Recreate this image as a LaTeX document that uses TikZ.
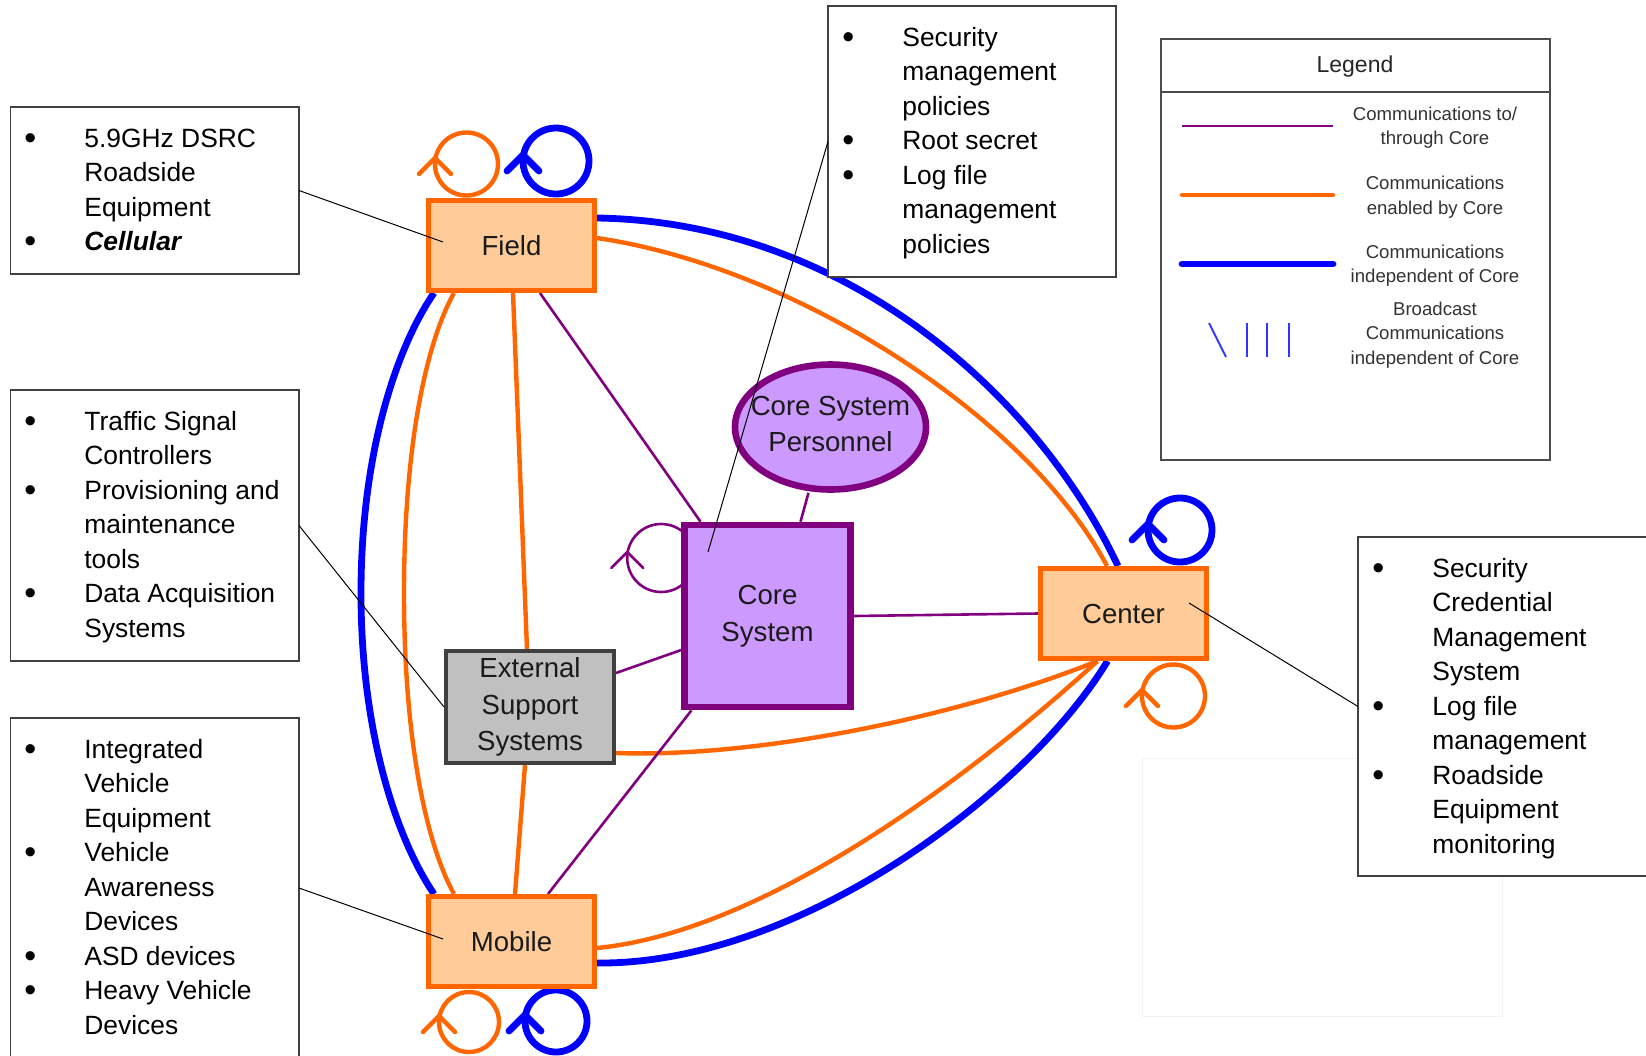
\documentclass[tikz,border=0pt]{standalone}
\usepackage{fontspec}
\setmainfont{Liberation Sans}
\usetikzlibrary{calc,shapes.geometric}
\definecolor{cOrange}{HTML}{FF6600}
\definecolor{cPeach}{HTML}{FFCC99}
\definecolor{cBlue}{HTML}{0000FF}
\definecolor{cPurple}{HTML}{800080}
\definecolor{cLav}{HTML}{CC99FF}
\definecolor{cGrayFill}{HTML}{C0C0C0}
\definecolor{cGrayLine}{HTML}{404040}
\definecolor{cText}{HTML}{1A1A1A}
\definecolor{cBcast}{HTML}{3333FF}
\pgfdeclarelayer{bg}
\pgfsetlayers{bg,main}
\newcommand\notefont{\fontsize{13.2}{17.25}\selectfont}
\newcommand\labelfont{\fontsize{13.8}{18.4}\selectfont}
\newcommand\legfont{\fontsize{9.3}{12.3}\selectfont}
\newcommand\bul{\leavevmode\llap{\makebox[0pt]{\raisebox{-1pt}{\fontsize{17}{17}\selectfont\textbullet}}\hspace{27pt}}}
\newcommand\selfloop[3]{%
  \path #1 coordinate (lp);
  \draw[#3] (lp) circle[radius=#2*0.5pt];
  \draw[#3,line cap=round,line join=round] ($(lp)+(-#2,-6)+(-16,16)$) -- ($(lp)+(-#2,-6)$) -- ($(lp)+(-#2,-6)+(16,16)$);}
\begin{document}
\begin{tikzpicture}[x=0.5pt,y=-0.5pt,
  entity/.style={rectangle,draw=cOrange,fill=cPeach,line width=2.5pt,minimum width=83pt,minimum height=45pt,inner sep=0pt,font=\labelfont,text=cText,align=center},
  corebox/.style={rectangle,draw=cPurple,fill=cLav,line width=3.3pt,minimum width=83pt,minimum height=91pt,inner sep=0pt,font=\labelfont,text=cText,align=center},
  extbox/.style={rectangle,draw=cGrayLine,fill=cGrayFill,line width=2pt,minimum width=84pt,minimum height=56pt,inner sep=0pt,font=\labelfont,text=cText,align=center},
  persell/.style={ellipse,draw=cPurple,fill=cLav,line width=3.3pt,minimum width=95.5pt,minimum height=62.5pt,inner sep=0pt},
  plainlabel/.style={inner sep=0pt,font=\labelfont,text=cText,align=center},
  notebox/.style={rectangle,draw=black!75,line width=0.6pt,fill=white,inner sep=0pt,outer sep=0pt},
  notetext/.style={anchor=north west,inner sep=0pt,align=left,font=\notefont,text=black},
  legtext/.style={inner sep=0pt,align=center,font=\legfont,text=black!80},
  orangeline/.style={draw=cOrange,line width=2.2pt},
  blueline/.style={draw=cBlue,line width=3.4pt},
  purpleline/.style={draw=cPurple,line width=1.3pt},
  leader/.style={draw=black,line width=0.5pt},
]
\useasboundingbox (0,0) rectangle (1646,1056);

% main entities
\node[entity] (field) at (511.5,245.5) {Field};
\node[entity] (mobile) at (511.5,941.5) {Mobile};
\node[entity] (center) at (1123.5,613.5) {Center};
\node[corebox] (core) at (767.5,616) {Core\\System};
\node[extbox] (ext) at (530,707) {External\\Support\\Systems};
\node[persell] (csp) at (830.5,427) {};
\node[plainlabel] (csplabel) at ($(csp.center)+(0,-3)$) {Core System\\Personnel};

\begin{pgfonlayer}{bg}
  \draw[black!5,line width=0.5pt] (1142,758) rectangle (1502,1016);
  % left arcs Field - Mobile
  \coordinate (blmid) at (361,593);
  \coordinate (olmid) at (404,593);
  \draw[blueline] ($(field.south)+(-77.5,0)$) .. controls (398,345) and (361,450) .. (blmid)
        .. controls (361,736) and (398,841) .. ($(mobile.north)+(-77.5,0)$);
  \draw[orangeline] ($(field.south)+(-57.5,0)$) .. controls (425,345) and (404,450) .. (olmid)
        .. controls (404,736) and (425,841) .. ($(mobile.north)+(-57.5,0)$);
  % Field - External - Mobile
  \draw[orangeline] ($(field.south)+(1.5,0)$) -- ($(ext.north)+(-3,0)$);
  \draw[orangeline] ($(ext.south)+(-5,0)$) -- ($(mobile.north)+(3.5,0)$);
  % Field - Center
  \draw[blueline] ($(field.east)+(0,-27.5)$) .. controls (850,222) and (1040,400) .. ($(center.north)+(-5.5,0)$);
  \draw[orangeline] ($(field.east)+(0,-7.5)$) .. controls (800,268) and (1030,420) .. ($(center.north)+(-16.5,0)$);
  % Center - Mobile
  \draw[orangeline] ($(center.south)+(-26,0)$) .. controls (1000,750) and (780,930) .. ($(mobile.east)+(0,6.5)$);
  \draw[blueline] ($(center.south)+(-16,0)$) .. controls (1030,790) and (800,965) .. ($(mobile.east)+(0,21.5)$);
  % Center - External
  \draw[orangeline] ($(center.south)+(-26,0)$) .. controls (950,720) and (750,758) .. ($(ext.east)+(0,46)$);
  % purple connections
  \draw[purpleline] ($(field.south)+(28.5,0)$) -- ($(core.north)+(-67,0)$);
  \draw[purpleline] ($(mobile.north)+(36.5,0)$) -- ($(core.south)+(-76,0)$);
  \draw[purpleline] (core.east) -- (center.west);
  \draw[purpleline] ($(ext.east)+(0,-34)$) -- ($(core.west)+(0,34)$);
  \draw[purpleline] ($(csp.south)+(-22,0)$) -- ($(core.north)+(33,0)$);
  % self loops
  \selfloop{($(field.north)+(-45,-34)$)}{31.5}{orangeline}
  \selfloop{($(field.north)+(44.5,-37)$)}{33}{blueline}
  \selfloop{($(mobile.south)+(-42.5,33)$)}{30}{orangeline}
  \selfloop{($(mobile.south)+(44.5,32)$)}{31}{blueline}
  \selfloop{($(center.north)+(56.5,-36)$)}{32}{blueline}
  \selfloop{($(center.south)+(50,35)$)}{31.5}{orangeline}
  \selfloop{($(core.west)+(-20,-58)$)}{34}{purpleline}
\end{pgfonlayer}

% note boxes
\node[notebox,minimum width=144.25pt,minimum height=83.5pt] (note1) at (154.75,190.5) {};
\node[notebox,minimum width=144.25pt,minimum height=135.5pt] (note2) at (154.75,525.5) {};
\node[notebox,minimum width=144.25pt,minimum height=170pt] (note3) at (154.75,888) {};
\node[notebox,minimum width=144pt,minimum height=135.5pt] (topnote) at (972,141.5) {};
\node[notebox,minimum width=156pt,minimum height=169.5pt] (rightnote) at (1514,706.5) {};

\node[notetext] (note1t) at (84,122.8) {\strut\bul 5.9GHz DSRC\\Roadside\\Equipment\\\bul\textbf{\textit{Cellular}}};
\node[notetext] (note2t) at (84,405.8) {\strut\bul Traffic Signal\\Controllers\\\bul Provisioning and\\maintenance\\tools\\\bul Data Acquisition\\Systems};
\node[notetext] (note3t) at (84,733.8) {\strut\bul Integrated\\Vehicle\\Equipment\\\bul Vehicle\\Awareness\\Devices\\\bul ASD devices\\\bul Heavy Vehicle\\Devices};
\node[notetext] (topnotet) at (902,21.8) {\strut\bul Security\\management\\policies\\\bul Root secret\\\bul Log file\\management\\policies};
\node[notetext] (rightnotet) at (1432,552.8) {\strut\bul Security\\Credential\\Management\\System\\\bul Log file\\management\\\bul Roadside\\Equipment\\monitoring};

% legend
\node[notebox,draw=black!70,line width=1pt,minimum width=194.5pt,minimum height=210.5pt] (legend) at (1355.5,249.5) {};
\draw[black!70,line width=1pt] ($(legend.north west)+(0,53)$) -- ($(legend.north east)+(0,53)$);
\node[inner sep=0pt,font=\fontsize{11.5}{13}\selectfont,text=black!85] (legtitle) at (1355,67) {Legend};
\draw[purpleline] (1182,126) -- (1333,126);
\draw[orangeline,line cap=round] (1182,195) -- (1333,195);
\draw[blueline,line cap=round] (1182,264) -- (1333,264);
\draw[cBcast,line width=0.9pt] (1209,323) -- (1226,357);
\draw[cBcast,line width=0.9pt] (1247,323) -- (1247,357);
\draw[cBcast,line width=0.9pt] (1267,323) -- (1267,357);
\draw[cBcast,line width=0.9pt] (1289,323) -- (1289,357);
\node[legtext] (leg1) at (1435,127.5) {Communications to/\\through Core};
\node[legtext] (leg2) at (1435,197) {Communications\\enabled by Core};
\node[legtext] (leg3) at (1435,265.5) {Communications\\independent of Core};
\node[legtext] (leg4) at (1435,335) {Broadcast\\Communications\\independent of Core};

% leader lines
\coordinate (fieldpt) at (443,242);
\coordinate (mobilept) at (443,939);
\coordinate (corept) at (708,552);
\coordinate (centerpt) at (1189,603);
\draw[leader] (note1.east) -- (fieldpt);
\draw[leader] (note2.east) -- (ext.west);
\draw[leader] (note3.east) -- (mobilept);
\draw[leader] (topnote.west) -- (corept);
\draw[leader] (rightnote.west) -- (centerpt);
\end{tikzpicture}
\end{document}
